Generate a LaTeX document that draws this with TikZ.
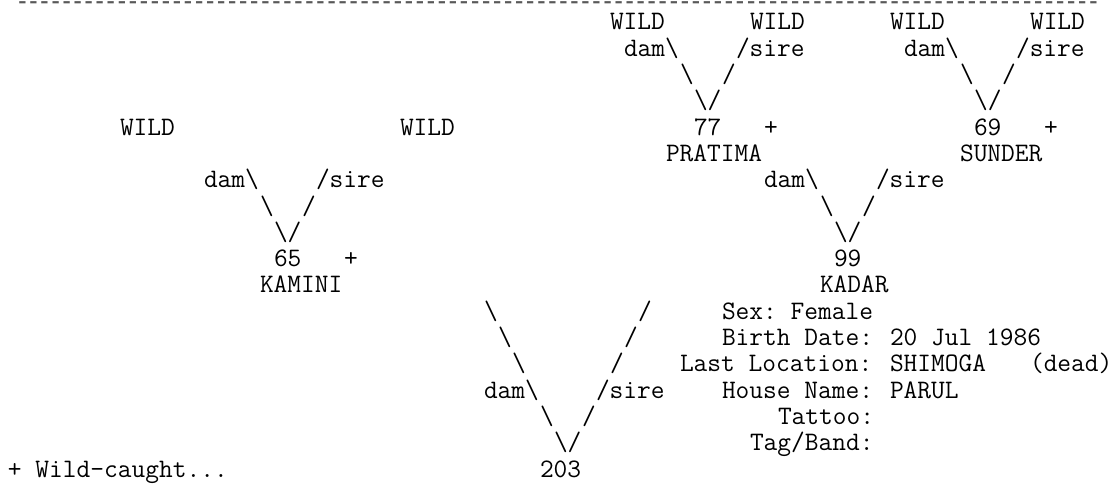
\documentclass[tikz,border=0pt]{standalone}
\usepackage{fontspec}
\setmonofont{Latin Modern Mono}
\newfontfamily\dashfont{Liberation Mono}
\newcommand\bs{\textbackslash}
% \tn{name}{column}{row}{text}
\newcommand\tn[4]{\node[txt] (#1) at ({8+14*#2},{492-30-26.3*(#3-1)}) {#4};}
\newcommand\onedash{\makebox[11.04pt][c]{\scalebox{1.2}[1]{\bfseries -}}}
\tikzset{
  txt/.style={font=\ttfamily\fontsize{26.67pt}{30pt}\selectfont, inner sep=0pt, outer sep=0pt, anchor=base west},
  dashrow/.style={font=\dashfont\fontsize{18.4pt}{20pt}\selectfont, inner sep=0pt, outer sep=0pt, anchor=base west, text=black!65}
}
\begin{document}
\begin{tikzpicture}[x=1pt,y=1pt]
\fill[white] (0,0) rectangle (1118,492);
\useasboundingbox (0,0) rectangle (1118,492);
\node[dashrow] (rule) at (17,484.5) {\foreach \i in {1,...,98}{\onedash}};
% row 1
\tn{wA}{43}{1}{WILD}
\tn{wB}{53}{1}{WILD}
\tn{wC}{63}{1}{WILD}
\tn{wD}{73}{1}{WILD}
% row 2
\tn{dA}{44}{2}{dam\bs}
\tn{sA}{52}{2}{/sire}
\tn{dB}{64}{2}{dam\bs}
\tn{sB}{72}{2}{/sire}
% row 3
\tn{lA3}{48}{3}{\bs}
\tn{rA3}{51}{3}{/}
\tn{lB3}{68}{3}{\bs}
\tn{rB3}{71}{3}{/}
% row 4
\tn{vA}{49}{4}{\bs/}
\tn{vB}{69}{4}{\bs/}
% row 5
\tn{wE}{8}{5}{WILD}
\tn{wF}{28}{5}{WILD}
\tn{n77}{49}{5}{77}
\tn{p77}{54}{5}{+}
\tn{n69}{69}{5}{69}
\tn{p69}{74}{5}{+}
% row 6
\tn{pratima}{47}{6}{PRATIMA}
\tn{sunder}{68}{6}{SUNDER}
% row 7
\tn{dC}{14}{7}{dam\bs}
\tn{sC}{22}{7}{/sire}
\tn{dD}{54}{7}{dam\bs}
\tn{sD}{62}{7}{/sire}
% row 8
\tn{lC8}{18}{8}{\bs}
\tn{rC8}{21}{8}{/}
\tn{lD8}{58}{8}{\bs}
\tn{rD8}{61}{8}{/}
% row 9
\tn{vC}{19}{9}{\bs/}
\tn{vD}{59}{9}{\bs/}
% row 10
\tn{n65}{19}{10}{65}
\tn{p65}{24}{10}{+}
\tn{n99}{59}{10}{99}
% row 11
\tn{kamini}{18}{11}{KAMINI}
\tn{kadar}{58}{11}{KADAR}
% row 12
\tn{l12}{34}{12}{\bs}
\tn{r12}{45}{12}{/}
\tn{sex}{51}{12}{Sex: Female}
% row 13
\tn{l13}{35}{13}{\bs}
\tn{r13}{44}{13}{/}
\tn{birthL}{51}{13}{Birth Date:}
\tn{birthV}{63}{13}{20 Jul 1986}
% row 14
\tn{l14}{36}{14}{\bs}
\tn{r14}{43}{14}{/}
\tn{locL}{48}{14}{Last Location:}
\tn{locV}{63}{14}{SHIMOGA}
\tn{dead}{73}{14}{(dead)}
% row 15
\tn{dE}{34}{15}{dam\bs}
\tn{sE}{42}{15}{/sire}
\tn{houseL}{51}{15}{House Name:}
\tn{houseV}{63}{15}{PARUL}
% row 16
\tn{l16}{38}{16}{\bs}
\tn{r16}{41}{16}{/}
\tn{tattoo}{55}{16}{Tattoo:}
% row 17
\tn{vE}{39}{17}{\bs/}
\tn{tag}{53}{17}{Tag/Band:}
% row 18
\tn{legend}{0}{18}{+ Wild-caught...}
\tn{n203}{38}{18}{203}
\end{tikzpicture}
\end{document}
